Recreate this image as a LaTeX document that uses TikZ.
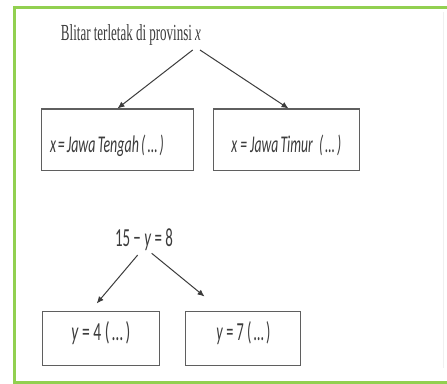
\documentclass[tikz,border=0pt]{standalone}
\usepackage{graphicx}
\usepackage{fontspec}
\setmainfont{Liberation Serif}
\newfontfamily\eqfont{Carlito}
\usetikzlibrary{arrows.meta}

\definecolor{framegreen}{RGB}{146,208,80}
\definecolor{inkgray}{RGB}{60,60,60}
\definecolor{boxgray}{RGB}{95,95,95}

% squeeze a piece of text horizontally to a given width, keeping its height
\newcommand\squeezeto[2]{\resizebox{#1}{\height}{#2}}

\begin{document}
\begin{tikzpicture}[x=1pt,y=-1pt,
  answerbox/.style={draw=boxgray, line width=1.1pt, inner ysep=0pt, text=inkgray},
  branch/.style={draw=inkgray, line width=1pt, -{Latex[length=7pt,width=6pt]}},
  caption/.style={inner sep=0pt, text=inkgray}]

\useasboundingbox (0,0) rectangle (447,383);
\fill[white] (0,0) rectangle (447,383);

% green frame, open on the right
\draw[framegreen, line width=3pt] (447,7) -- (14.5,7) -- (14.5,382) -- (447,382);
\draw[black!6, line width=0.6pt] (443,12) -- (443,368);

% first question
\node[caption, anchor=base] (q1) at (131,40)
  {\fontsize{23pt}{26pt}\selectfont\squeezeto{140pt}{Blitar terletak di provinsi \textit{x}}};

\node[answerbox, minimum width=152pt, minimum height=61.5pt,
      text width=135pt, inner xsep=8.5pt, align=left,
      text height=30pt, text depth=4pt] (b1) at (117.5,139.75)
  {\eqfont\itshape\fontsize{24pt}{27pt}\selectfont\squeezeto{114pt}{x = Jawa\,Tengah\,(\,…\,)}};

\node[answerbox, minimum width=146pt, minimum height=61.5pt,
      text height=30pt, text depth=4pt] (b2) at (286.3,139.75)
  {\eqfont\itshape\fontsize{24pt}{27pt}\selectfont\squeezeto{110pt}{x = Jawa\,Timur~~(\,…\,)}};

\coordinate (q1l) at (192.7,50);
\coordinate (q1r) at (200,50);
\coordinate (b2top) at (288.5,108.5);
\draw[branch] (q1l) -- (b1.north);
\draw[branch] (q1r) -- (b2top);

% second question
\node[caption, anchor=base] (q2) at (144,246.5)
  {\eqfont\fontsize{26pt}{30pt}\selectfont\squeezeto{58pt}{15 − \textit{y} = 8}};

\node[answerbox, minimum width=117pt, minimum height=53.5pt,
      text height=12pt, text depth=8.6pt] (b3) at (100.8,338.3)
  {\eqfont\fontsize{26pt}{30pt}\selectfont\squeezeto{59pt}{\textit{y} = 4 (\,…\,)}};

\node[answerbox, minimum width=115pt, minimum height=53.5pt,
      text height=12pt, text depth=8.6pt] (b4) at (243.4,338.3)
  {\eqfont\fontsize{26pt}{30pt}\selectfont\squeezeto{54pt}{\textit{y} = 7 (\,…\,)}};

\coordinate (q2l) at (137.7,255);
\coordinate (q2r) at (151.7,253.3);
\coordinate (b3tip) at (96.7,303.5);
\coordinate (b4tip) at (204.5,296.5);
\draw[branch] (q2l) -- (b3tip);
\draw[branch] (q2r) -- (b4tip);

\end{tikzpicture}
\end{document}
